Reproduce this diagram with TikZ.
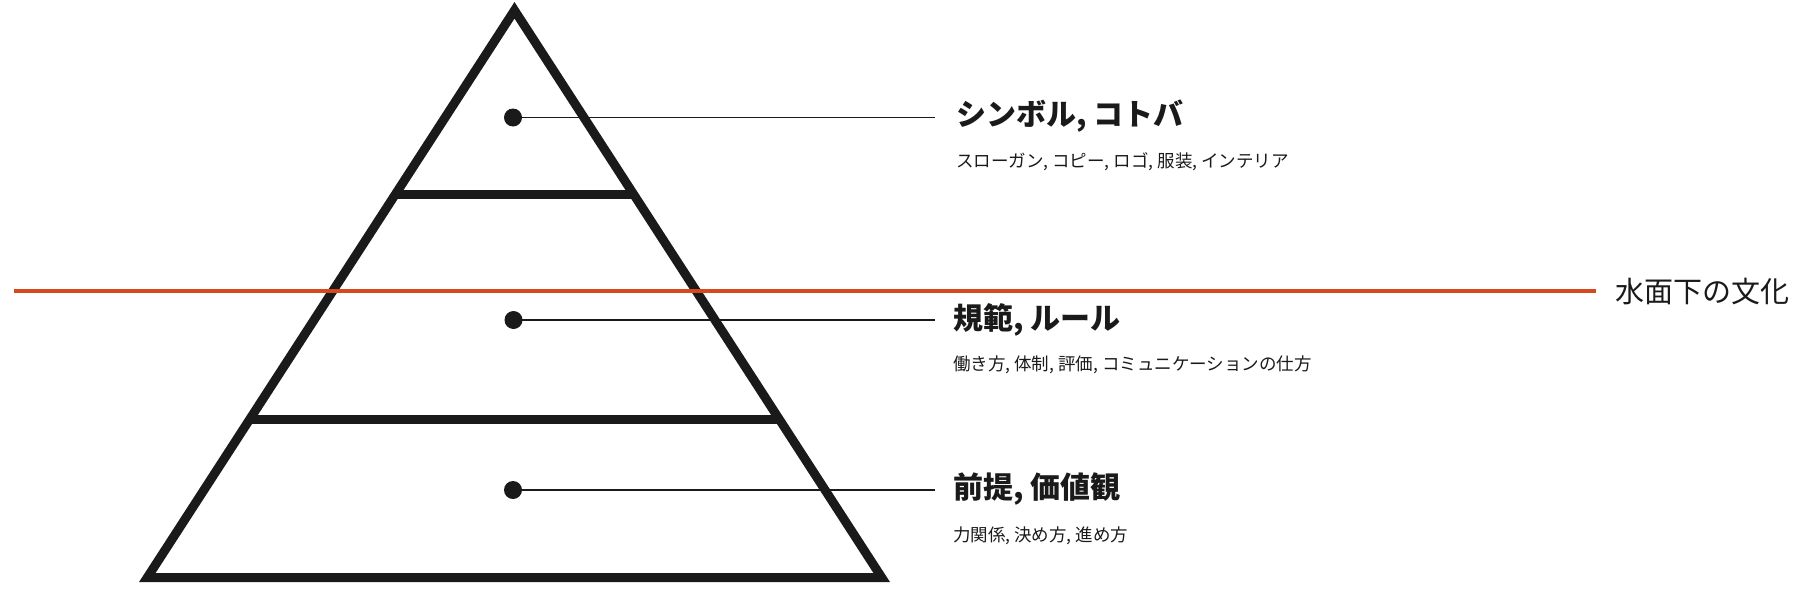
\documentclass[tikz,border=0pt]{standalone}
\usepackage{fontspec}
\newfontfamily\jp{Noto Sans CJK JP}
\usetikzlibrary{calc}
\definecolor{waterred}{RGB}{214,72,30}
\definecolor{ink}{RGB}{26,26,26}
\begin{document}
\begin{tikzpicture}[x=1pt,y=-1pt,
  outline/.style={line width=9pt, line join=miter, draw=ink, fill=white},
  divider/.style={line width=9pt, draw=ink},
  leader/.style={line width=1.8pt, draw=ink},
  dotstyle/.style={circle, fill=ink, inner sep=0pt, minimum size=18pt},
  titletext/.style={anchor=west, inner sep=0pt, text=ink, font=\jp\bfseries\fontsize{30}{34}\selectfont},
  subtext/.style={anchor=west, inner sep=0pt, text=ink, font=\jp\fontsize{17.5}{21}\selectfont},
  watertext/.style={anchor=west, inner sep=0pt, text=ink, font=\jp\fontsize{29}{33}\selectfont},
  waterline/.style={line width=4pt, draw=waterred}
]
\fill[white] (0,0) rectangle (1820,613);
\useasboundingbox (0,0) rectangle (1820,613);
% pyramid
\coordinate (apex) at (514.5,10.3);
\coordinate (bl) at (147.3,577.5);
\coordinate (br) at (881.7,577.5);
\draw[outline] (apex) -- (bl) -- (br) -- cycle;
\draw[divider] ($(apex)!0.3254!(bl)$) -- ($(apex)!0.3254!(br)$);
\draw[divider] ($(apex)!0.7214!(bl)$) -- ($(apex)!0.7214!(br)$);
% dots and leaders
\node[dotstyle] (d1) at (513,117.5) {};
\node[dotstyle] (d2) at (513.5,320) {};
\node[dotstyle] (d3) at (513,490) {};
\coordinate (e1) at (935,117.5);
\coordinate (e2) at (935,320);
\coordinate (e3) at (935,490);
\draw[leader] (d1.center) -- (e1);
\draw[leader] (d2.center) -- (e2);
\draw[leader] (d3.center) -- (e3);
% labels
\node[titletext] (t1) at (956,116.5) {シンボル, コトバ};
\node[subtext] (s1) at (956,161.5) {スローガン, コピー, ロゴ, 服装, インテリア};
\node[titletext] (t2) at (953,320) {規範, ルール};
\node[subtext] (s2) at (953,365) {働き方, 体制, 評価, コミュニケーションの仕方};
\node[titletext] (t3) at (953,489) {前提, 価値観};
\node[subtext] (s3) at (953,535.5) {力関係, 決め方, 進め方};
% water line
\node[watertext] (w) at (1615,291.5) {水面下の文化};
\coordinate (ws) at (14,290.5);
\coordinate (we) at (1596,290.5);
\draw[waterline] (ws) -- (we);
\end{tikzpicture}
\end{document}
